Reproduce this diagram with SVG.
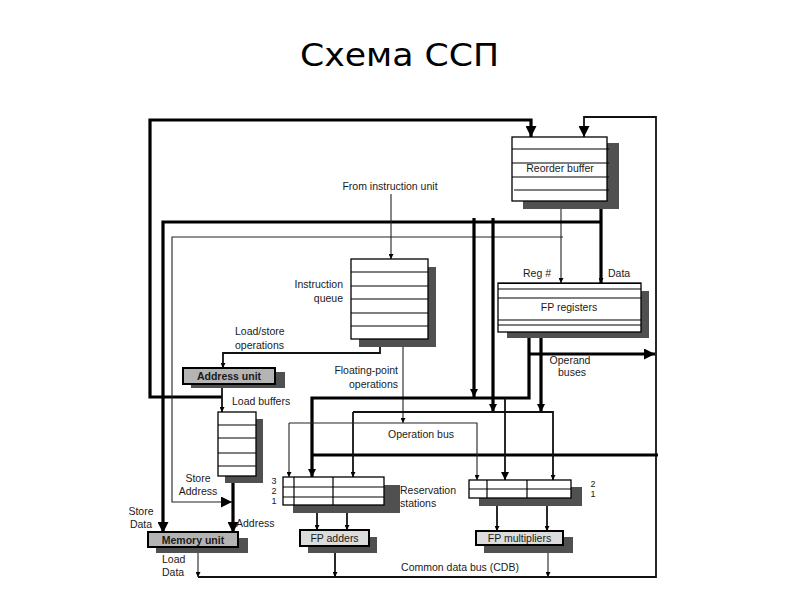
<svg xmlns="http://www.w3.org/2000/svg" width="800" height="600" viewBox="0 0 800 600">
<defs>
<style>
text{font-family:"Liberation Sans",Arial,sans-serif;font-size:10.5px;fill:#1a1a1a}
.title{font-family:"DejaVu Sans","Noto Sans",sans-serif;font-size:32px;fill:#000}
.num{font-size:9px}
.shadow{fill:#505050}
.box{fill:#fff;stroke:#000;stroke-width:1.3}
.gbox{fill:#b4b4b4;stroke:#000;stroke-width:2}
.lbox{fill:#dcdcdc;stroke:#000;stroke-width:2}
.row{stroke:#000;stroke-width:1.2;fill:none}
.thick{stroke:#000;stroke-width:3.2;fill:none}
.med{stroke:#111;stroke-width:1.8;fill:none}
.thin{stroke:#222;stroke-width:1.1;fill:none}
.b{font-weight:bold}
</style>
<marker id="as" viewBox="0 0 10 10" refX="10" refY="5" markerWidth="6" markerHeight="5" markerUnits="userSpaceOnUse" orient="auto"><path d="M0,0 L10,5 L0,10 z"/></marker>
<marker id="am" viewBox="0 0 10 10" refX="10" refY="5" markerWidth="9" markerHeight="8" markerUnits="userSpaceOnUse" orient="auto"><path d="M0,0 L10,5 L0,10 z"/></marker>
<marker id="al" viewBox="0 0 10 10" refX="10" refY="5" markerWidth="14" markerHeight="11" markerUnits="userSpaceOnUse" orient="auto"><path d="M0,0 L10,5 L0,10 z"/></marker>
</defs>
<rect width="800" height="600" fill="#fff"/>
<text class="title" x="300" y="66" textLength="199" lengthAdjust="spacingAndGlyphs">Схема ССП</text>

<g id="connectors">
<path class="thick" d="M222,397 L150,397 L150,120 L531,120 L531,137" marker-end="url(#al)"/>
<path class="med" d="M198,577 L656,577 L656,117 L584,117 L584,137" marker-end="url(#al)"/>
<path class="thin" d="M561,201 L561,283" marker-end="url(#as)"/>
<path class="thick" d="M601,201 L601,283" marker-end="url(#as)"/>
<path class="thick" d="M601,222 L163,222 L163,533" marker-end="url(#al)"/>
<path class="thin" d="M563,237 L172,237 L172,502 L232,502" marker-end="url(#al)"/>
<path class="thick" d="M474,218 L474,397" marker-end="url(#am)"/>
<path class="thick" d="M493,218 L493,412" marker-end="url(#am)"/>
<path class="thin" d="M391,194 L391,259" marker-end="url(#as)"/>
<path class="med" d="M380,339 L380,353 L223,353 L223,368" marker-end="url(#as)"/>
<path class="thin" d="M403,339 L403,423" marker-end="url(#as)"/>
<path class="med" d="M222,384 L222,412" marker-end="url(#as)"/>
<path class="thick" d="M529,332 L529,398 L312,398 L312,477" marker-end="url(#am)"/>
<path class="thick" d="M312,455 L658,455"/>
<path class="med" d="M505,398 L505,480" marker-end="url(#am)"/>
<path class="thick" d="M541,332 L541,412" marker-end="url(#am)"/>
<path class="thick" d="M529,354 L655,354" marker-end="url(#al)"/>
<path class="med" d="M353,412 L353,477" marker-end="url(#as)"/>
<path class="med" d="M353,412 L553,412 L553,480" marker-end="url(#as)"/>
<path class="thin" d="M289,423 L289,477" marker-end="url(#as)"/>
<path class="thin" d="M289,423 L477,423 L477,480" marker-end="url(#as)"/>
<path class="thick" d="M233,476 L233,533" stroke-width="4.5" marker-end="url(#al)"/>
<path class="thin" d="M198,547 L198,577" marker-end="url(#as)"/>
<path class="med" d="M317,505 L317,530" marker-end="url(#as)"/>
<path class="med" d="M347,505 L347,530" marker-end="url(#as)"/>
<path class="med" d="M335,546 L335,577" marker-end="url(#as)"/>
<path class="med" d="M497,498 L497,531" marker-end="url(#as)"/>
<path class="med" d="M547,498 L547,531" marker-end="url(#as)"/>
<path class="thin" d="M548,545 L548,577" marker-end="url(#as)"/>
</g>

<g id="reorder-buffer">
<rect class="shadow" x="523" y="143" width="96" height="66"/>
<rect class="box" x="512" y="137" width="95" height="64"/>
<path class="row" d="M512,149 H609 M512,163 H609 M512,177 H609 M514,190 H609"/>
<text x="560" y="172" text-anchor="middle">Reorder buffer</text>
</g>

<g id="fp-registers">
<rect class="shadow" x="507" y="291" width="142" height="47"/>
<rect class="box" x="498" y="283" width="143" height="49"/>
<path class="row" d="M498,283.5 H641" stroke-width="2.4"/>
<path class="row" d="M498,289 H641 M498,298 H641 M498,320 H641 M498,325 H641"/>
<text x="569" y="311" text-anchor="middle">FP registers</text>
</g>

<g id="instruction-queue">
<rect class="shadow" x="359" y="267" width="77" height="80"/>
<rect class="box" x="351" y="259" width="77" height="80"/>
<path class="row" d="M351,272 H428 M351,286 H428 M351,299 H428 M351,313 H428 M351,326 H428"/>
</g>

<g id="address-unit">
<rect class="shadow" x="191" y="372" width="94" height="16"/>
<rect class="gbox" x="183" y="368" width="92" height="16"/>
<text class="b" x="229" y="380" text-anchor="middle">Address unit</text>
</g>

<g id="load-buffers">
<rect class="shadow" x="225" y="419" width="38" height="64"/>
<rect class="box" x="218" y="412" width="38" height="64"/>
<path class="row" d="M218,425 H256 M218,438 H256 M218,466 H256"/>
<path class="row" d="M218,453 H256" stroke-width="2"/>
</g>

<g id="memory-unit">
<rect class="shadow" x="156" y="538" width="92" height="15"/>
<rect class="gbox" x="148" y="532" width="90" height="15"/>
<text class="b" x="193" y="544" text-anchor="middle">Memory unit</text>
</g>

<g id="adder-reservation-stations">
<rect class="shadow" x="293" y="485" width="107" height="28"/>
<rect class="box" x="283" y="477" width="101" height="28"/>
<path class="row" d="M283,487 H384 M283,497 H384 M333,477 V505"/>
<path class="row" d="M294,477 V505" stroke-width="2"/>
</g>

<g id="mult-reservation-stations">
<rect class="shadow" x="479" y="487" width="103" height="19"/>
<rect class="box" x="469" y="480" width="102" height="18"/>
<path class="row" d="M469,489 H571 M487,480 V498 M527,480 V498"/>
</g>

<g id="fp-adders">
<rect class="shadow" x="308" y="537" width="69" height="16"/>
<rect class="lbox" x="300" y="530" width="69" height="16"/>
<text x="334.5" y="542" text-anchor="middle">FP adders</text>
</g>

<g id="fp-multipliers">
<rect class="shadow" x="484" y="537" width="89" height="16"/>
<rect class="lbox" x="476" y="531" width="87" height="14"/>
<text x="519.5" y="542" text-anchor="middle">FP multipliers</text>
</g>

<g id="labels">
<text x="390" y="190" text-anchor="middle">From instruction unit</text>
<text x="343" y="288" text-anchor="end">Instruction</text>
<text x="343" y="302" text-anchor="end">queue</text>
<text x="235" y="335">Load/store</text>
<text x="235" y="349">operations</text>
<text x="398" y="374" text-anchor="end">Floating-point</text>
<text x="398" y="388" text-anchor="end">operations</text>
<text x="232" y="405">Load buffers</text>
<text x="421" y="438" text-anchor="middle">Operation bus</text>
<text x="523" y="277">Reg #</text>
<text x="608" y="277">Data</text>
<text x="570" y="364" text-anchor="middle">Operand</text>
<text x="572" y="376" text-anchor="middle">buses</text>
<text x="198" y="482" text-anchor="middle">Store</text>
<text x="198" y="495" text-anchor="middle">Address</text>
<text x="141" y="515" text-anchor="middle">Store</text>
<text x="141" y="528" text-anchor="middle">Data</text>
<text x="236" y="527">Address</text>
<text x="162" y="563">Load</text>
<text x="162" y="576">Data</text>
<text class="num" x="274" y="484" text-anchor="middle">3</text>
<text class="num" x="274" y="494" text-anchor="middle">2</text>
<text class="num" x="274" y="504" text-anchor="middle">1</text>
<text x="400" y="494">Reservation</text>
<text x="400" y="507">stations</text>
<text class="num" x="593" y="487" text-anchor="middle">2</text>
<text class="num" x="593" y="497" text-anchor="middle">1</text>
<text x="460" y="571" text-anchor="middle">Common data bus (CDB)</text>
</g>
</svg>
